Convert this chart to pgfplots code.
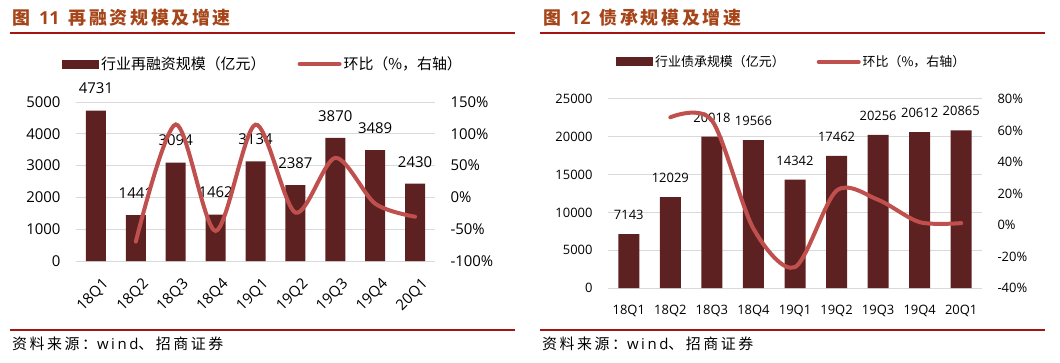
\documentclass[border=0pt]{standalone}
\usepackage{pgfplots}
\pgfplotsset{compat=1.18}
\usepackage{fontspec}
\setmainfont{Open Sans}
\newfontfamily\cjk{Noto Sans CJK SC}
\definecolor{barc}{HTML}{5E2121}
\definecolor{linec}{HTML}{C0504D}
\definecolor{titc}{HTML}{A6451A}
\definecolor{rulec}{HTML}{A31515}
\definecolor{gridc}{HTML}{D9D9D9}
\pgfplotsset{
  common/.style={
    scale only axis, anchor=south west,
    xmin=-0.5, xmax=8.5,
    xtick={0,...,8},
    xticklabels={18Q1,18Q2,18Q3,18Q4,19Q1,19Q2,19Q3,19Q4,20Q1},
    axis line style={draw=none},
    major tick length=0pt,
    scaled y ticks=false,
    /pgf/number format/assume math mode=true,
    /pgf/number format/1000 sep={},
    clip=false,
  },
  barleg/.style={legend image code/.code={\fill[barc] (0bp,-4.5bp) rectangle (37bp,4.5bp);}},
  lineleg/.style={legend image code/.code={\draw[linec, line width=4bp, line cap=round] (0bp,0bp) -- (40bp,0bp);}},
}
\newcommand\srcfont{\fontsize{15}{15}\selectfont\addfontfeature{LetterSpace=17}}
\begin{document}
\begin{tikzpicture}[x=1bp,y=1bp]
\useasboundingbox (0,0) rectangle (1060,362);
% ---------- panel 1 ----------
\node[anchor=west, text=titc, inner sep=0, font=\fontsize{18}{18}\selectfont\bfseries] at (12,344) {{\cjk 图}\hspace{9bp}11\hspace{9bp}{\cjk\addfontfeature{LetterSpace=15}再融资规模及增速}};
\draw[rulec, line width=1.5bp] (10,329) -- (515,329);
\draw[rulec, line width=1.5bp] (10,32) -- (515,32);
\node[anchor=west, inner sep=0] at (12,18) {{\cjk\srcfont 资料来源：}{\srcfont wind}{\cjk\srcfont 、招商证券}};
\begin{axis}[common, at={(76bp,101bp)}, width=359bp, height=159bp,
  ymin=0, ymax=5000, ytick={0,1000,...,5000},
  ymajorgrids, grid style={gridc, line width=1bp},
  yticklabel style={anchor=east, xshift=-12bp, font=\fontsize{15}{15}\selectfont},
  xticklabel style={rotate=45, anchor=north east, font=\fontsize{15}{15}\selectfont, xshift=-4bp, yshift=-12bp},
  legend style={draw=none, fill=none, inner sep=0pt, at={(-0.039,1.239)}, anchor=west,
     font=\fontsize{15}{15}\selectfont\cjk, /tikz/every even column/.append style={column sep=30bp}},
  legend columns=2, legend cell align=left,
  ]
\addplot[ybar, fill=barc, draw=none, bar width=20bp, barleg,
  nodes near coords, every node near coord/.append style={anchor=center, yshift=22bp, font=\fontsize{15}{15}\selectfont, text=black}]
  coordinates {(0,4731) (1,1441) (2,3094) (3,1462) (4,3134) (5,2387) (6,3870) (7,3489) (8,2430)};
\addlegendentry{行业再融资规模（亿元）}
\addlegendimage{lineleg}
\addlegendentry{环比（\%，右轴）}
\end{axis}
\begin{axis}[common, at={(76bp,101bp)}, width=359bp, height=159bp,
  ymin=-1, ymax=1.5, ytick={-1,-0.5,...,1.5},
  yticklabels={-100\%,-50\%,0\%,50\%,100\%,150\%},
  axis y line*=right, axis x line=none,
  yticklabel style={anchor=west, xshift=12bp, font=\fontsize{15}{15}\selectfont},
  ]
\addplot[linec, line width=4bp, smooth, line cap=round]
  coordinates {(1,-0.695) (2,1.147) (3,-0.527) (4,1.144) (5,-0.238) (6,0.621) (7,-0.098) (8,-0.304)};
\end{axis}
% ---------- panel 2 ----------
\node[anchor=west, text=titc, inner sep=0, font=\fontsize{18}{18}\selectfont\bfseries] at (543,344) {{\cjk 图}\hspace{9bp}12\hspace{9bp}{\cjk\addfontfeature{LetterSpace=15}债承规模及增速}};
\draw[rulec, line width=1.5bp] (540,329) -- (1045,329);
\draw[rulec, line width=1.5bp] (540,32) -- (1045,32);
\node[anchor=west, inner sep=0] at (542,18) {{\cjk\srcfont 资料来源：}{\srcfont wind}{\cjk\srcfont 、招商证券}};
\begin{axis}[common, at={(608bp,74bp)}, width=374bp, height=189bp,
  ymin=0, ymax=25000, ytick={0,5000,...,25000},
  ymajorgrids, grid style={gridc, line width=1bp},
  yticklabel style={anchor=east, xshift=-12bp, font=\fontsize{13}{13}\selectfont},
  xticklabel style={anchor=north, font=\fontsize{13}{13}\selectfont, yshift=-14bp},
  legend style={draw=none, fill=none, inner sep=0pt, at={(0.0214,1.1958)}, anchor=west,
     font=\fontsize{13}{13}\selectfont\cjk, /tikz/every even column/.append style={column sep=30bp}},
  legend columns=2, legend cell align=left,
  ]
\addplot[ybar, fill=barc, draw=none, bar width=21bp, barleg,
  nodes near coords, every node near coord/.append style={anchor=center, yshift=19bp, font=\fontsize{13}{13}\selectfont, text=black}]
  coordinates {(0,7143) (1,12029) (2,20018) (3,19566) (4,14342) (5,17462) (6,20256) (7,20612) (8,20865)};
\addlegendentry{行业债承规模（亿元）}
\addlegendimage{lineleg}
\addlegendentry{环比（\%，右轴）}
\end{axis}
\begin{axis}[common, at={(608bp,74bp)}, width=374bp, height=189bp,
  ymin=-0.4, ymax=0.8, ytick={-0.4,-0.2,...,0.8},
  yticklabels={-40\%,-20\%,0\%,20\%,40\%,60\%,80\%},
  axis y line*=right, axis x line=none,
  yticklabel style={anchor=west, xshift=12bp, font=\fontsize{13}{13}\selectfont},
  ]
\addplot[linec, line width=4bp, smooth, line cap=round]
  coordinates {(1,0.684) (2,0.664) (3,-0.023) (4,-0.267) (5,0.218) (6,0.160) (7,0.018) (8,0.012)};
\end{axis}
\end{tikzpicture}
\end{document}
